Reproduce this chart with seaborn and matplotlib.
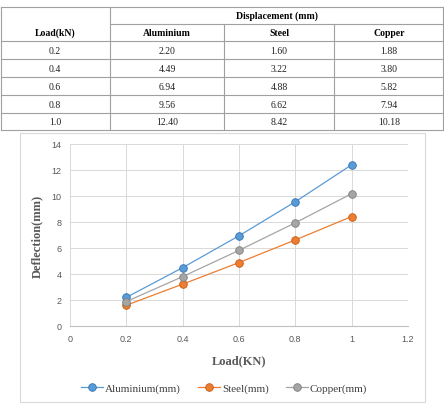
import pandas as pd
import matplotlib.pyplot as plt
import seaborn as sns
from matplotlib.patches import Rectangle

load = [0.2, 0.4, 0.6, 0.8, 1.0]
aluminium = [2.20, 4.49, 6.94, 9.56, 12.40]
steel = [1.60, 3.22, 4.88, 6.62, 8.42]
copper = [1.88, 3.80, 5.82, 7.94, 10.18]
materials = ['Aluminium', 'Steel', 'Copper']
colors = ['#5B9BD5', '#ED7D31', '#A5A5A5']
edges = ['#2E75B6', '#C55A11', '#7F7F7F']

W, H = 444, 406
fig = plt.figure(figsize=(W / 100, H / 100), dpi=100)

# ---- table at the top (pixel coordinates) ----
tab = fig.add_axes([0, 0, 1, 1])
tab.set_xlim(0, W)
tab.set_ylim(H, 0)
tab.axis('off')
lc = '#a0a0a0'
hl = [(8, 1, 443), (25, 110, 443), (42, 1, 443), (60, 1, 443), (78, 1, 443),
      (96, 1, 443), (114, 1, 443), (131, 1, 443)]
for y, x0, x1 in hl:
    tab.plot([x0, x1], [y, y], color=lc, lw=0.8)
for x, y0 in [(1, 8), (110, 8), (224, 25), (334, 25), (443, 8)]:
    tab.plot([x, x], [y0, 131], color=lc, lw=0.8)
serif = ['Liberation Serif', 'DejaVu Serif']
tab.text(277, 16.5, 'Displacement (mm)', ha='center', va='center', family=serif,
         fontweight='bold', fontsize=7)
tab.text(55, 33, 'Load(kN)', ha='center', va='center', family=serif, fontweight='bold', fontsize=7)
col_x = [55, 167, 279, 389]
for cx, name in zip(col_x[1:], materials):
    tab.text(cx, 33.5, name, ha='center', va='center', family=serif, fontweight='bold', fontsize=7)
row_y = [51, 69, 87, 105, 122.5]
for i in range(len(load)):
    vals = [f'{load[i]:.1f}', f'{aluminium[i]:.2f}', f'{steel[i]:.2f}', f'{copper[i]:.2f}']
    for cx, v in zip(col_x, vals):
        tab.text(cx, row_y[i], v, ha='center', va='center', family=serif, fontsize=7, color='#222222')

# chart frame
tab.add_patch(Rectangle((20, 134), 405, 269, fill=False, edgecolor='#d9d9d9', lw=0.8))

# ---- chart ----
df = pd.DataFrame({
    'Load': load * 3,
    'Deflection': aluminium + steel + copper,
    'Material': [m + '(mm)' for m in materials for _ in load],
})

ax = fig.add_axes([70 / W, 1 - 327 / H, 338 / W, 182 / H])
sns.lineplot(data=df, x='Load', y='Deflection', hue='Material', palette=colors,
             marker='o', markersize=5.5, linewidth=0.9, ax=ax, legend=False)
for line, ec in zip(ax.lines, edges):
    line.set_markeredgecolor(ec)
    line.set_markeredgewidth(0.6)

ax.set_xlim(0, 1.2)
ax.set_ylim(0, 14)
ax.set_xticks([0, 0.2, 0.4, 0.6, 0.8, 1.0, 1.2])
ax.set_xticklabels(['0', '0.2', '0.4', '0.6', '0.8', '1', '1.2'])
ax.set_yticks(range(0, 15, 2))
ax.grid(True, color='#d9d9d9', lw=0.7)
ax.set_axisbelow(True)
for s in ['top', 'right', 'left']:
    ax.spines[s].set_visible(False)
ax.spines['bottom'].set_color('#bfbfbf')
ax.tick_params(length=0, labelsize=6.5, labelcolor='#595959', pad=6)
for lab in ax.get_xticklabels() + ax.get_yticklabels():
    lab.set_family(['Liberation Sans', 'DejaVu Sans'])
ax.set_xlabel('Load(KN)', family=serif, fontweight='bold', fontsize=9, color='#595959', labelpad=8)
ax.set_ylabel('Deflection(mm)', family=serif, fontweight='bold', fontsize=9, color='#595959', labelpad=6)

handles = [plt.Line2D([], [], color=c, marker='o', markersize=5.5, markeredgecolor=e,
                      markeredgewidth=0.6, lw=0.9) for c, e in zip(colors, edges)]
fig.legend(handles, [m + '(mm)' for m in materials], loc='center', ncol=3,
           bbox_to_anchor=(224 / W, 1 - 389 / H), frameon=False,
           prop={'family': serif, 'size': 8}, labelcolor='#404040',
           handlelength=2.0, handletextpad=0.2, columnspacing=1.5)

fig.savefig('out.png', dpi=100)
